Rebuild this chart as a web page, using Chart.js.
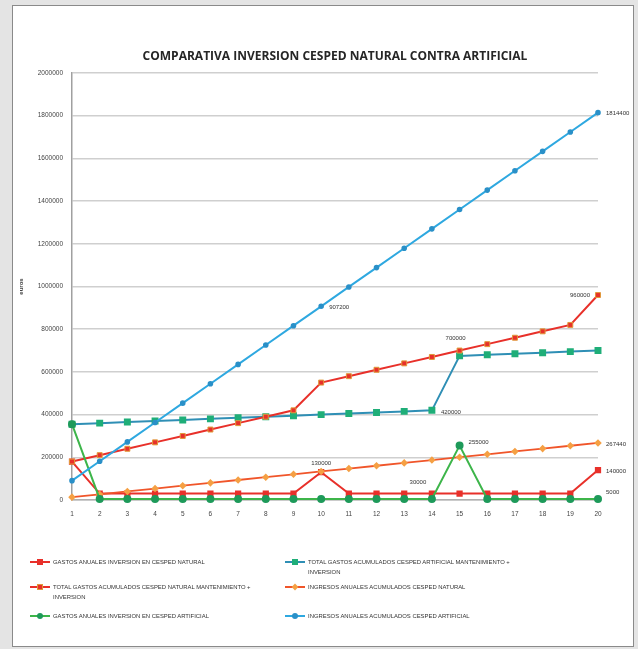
<!DOCTYPE html>
<html>
<head>
<meta charset="utf-8">
<script src="https://cdn.jsdelivr.net/npm/chart.js@4.4.1/dist/chart.umd.min.js"></script>
<style>
  html, body { margin: 0; padding: 0; }
  body { width: 638px; height: 649px; background: #e4e4e4; position: relative; overflow: hidden; font-family: "Liberation Sans", Arial, sans-serif; }
  #panel { position: absolute; left: 12px; top: 5px; width: 620px; height: 640px; background: #fff; border: 1.5px solid #8a8a8a; }
  #wrap { position: absolute; left: 0; top: 0; width: 638px; height: 540px; }
  #legend { position: absolute; left: 0; top: 0; width: 638px; height: 649px; pointer-events: none; }
  .item { position: absolute; display: flex; align-items: flex-start; }
  .mk { position: relative; width: 20px; height: 8px; flex: none; margin-right: 3px; }
  .mk .ln { position: absolute; left: 0; right: 0; top: 3px; height: 2px; }
  .mk .pt { position: absolute; left: 7px; top: 1px; width: 6px; height: 6px; box-sizing: border-box; }
  .txt { font-size: 5.9px; line-height: 10px; color: #333; margin-top: -1px; width: 212px; }
</style>
</head>
<body>
<div id="panel"></div>
<div id="wrap"><canvas id="myChart" width="638" height="540"></canvas></div>
<div id="legend"></div>
<script>
// years 1..20
const years = ["1","2","3","4","5","6","7","8","9","10","11","12","13","14","15","16","17","18","19","20"];

// gastos anuales inversion en cesped natural
const gastosNatural = [180000, 30000, 30000, 30000, 30000, 30000, 30000, 30000, 30000, 130000,
                       30000, 30000, 30000, 30000, 30000, 30000, 30000, 30000, 30000, 140000];

// total gastos acumulados cesped artificial
const totalArtificial = [355000, 360000, 365000, 370000, 375000, 380000, 385000, 390000, 395000, 400000,
                         405000, 410000, 415000, 420000, 675000, 680000, 685000, 690000, 695000, 700000];

// total gastos acumulados cesped natural
const totalNatural = [180000, 210000, 240000, 270000, 300000, 330000, 360000, 390000, 420000, 550000,
                      580000, 610000, 640000, 670000, 700000, 730000, 760000, 790000, 820000, 960000];

// ingresos anuales acumulados cesped natural
const ingresosNatural = [13372, 26744, 40116, 53488, 66860, 80232, 93604, 106976, 120348, 133720,
                         147092, 160464, 173836, 187208, 200580, 213952, 227324, 240696, 254068, 267440];

// gastos anuales inversion en cesped artificial
const gastosArtificial = [355000, 5000, 5000, 5000, 5000, 5000, 5000, 5000, 5000, 5000,
                          5000, 5000, 5000, 5000, 255000, 5000, 5000, 5000, 5000, 5000];

// ingresos anuales acumulados cesped artificial
const ingresosArtificial = [90720, 181440, 272160, 362880, 453600, 544320, 635040, 725760, 816480, 907200,
                            997920, 1088640, 1179360, 1270080, 1360800, 1451520, 1542240, 1632960, 1723680, 1814400];

const yTicks = [0, 200000, 400000, 600000, 800000, 1000000, 1200000, 1400000, 1600000, 1800000, 2000000];

const seriesNames = [
  "GASTOS ANUALES INVERSION EN CESPED NATURAL",
  "TOTAL GASTOS ACUMULADOS CESPED ARTIFICIAL MANTENIMIENTO + INVERSION",
  "TOTAL GASTOS ACUMULADOS CESPED NATURAL MANTENIMIENTO + INVERSION",
  "INGRESOS ANUALES ACUMULADOS CESPED NATURAL",
  "GASTOS ANUALES INVERSION EN CESPED ARTIFICIAL",
  "INGRESOS ANUALES ACUMULADOS CESPED ARTIFICIAL"
];

const red = '#e8302a';
const orange = '#f5a044';
const green = '#3db54a';
const teal = '#2f8fb5';
const tealMark = '#1fae78';
const blue = '#2ea8e0';

// which points get a value label: [dataset, index, dx, dy, align]
const labelSpots = [
  [5, 19, 8, 1, 'left'],
  [5, 9, 8, 1, 'left'],
  [2, 19, -8, 0, 'right'],
  [2, 14, -4, -12, 'center'],
  [1, 13, 9, 2, 'left'],
  [4, 14, 9, -3, 'left'],
  [0, 9, 0, -9, 'center'],
  [0, 13, -14, -11, 'center'],
  [3, 19, 8, 1, 'left'],
  [0, 19, 8, 1, 'left'],
  [4, 19, 8, -7, 'left']
];

const pointLabels = {
  id: 'pointLabels',
  afterDatasetsDraw(chart) {
    const ctx = chart.ctx;
    ctx.save();
    ctx.font = '6px "Liberation Sans", Arial, sans-serif';
    ctx.fillStyle = '#333';
    ctx.textBaseline = 'middle';
    labelSpots.forEach(s => {
      const el = chart.getDatasetMeta(s[0]).data[s[1]];
      const v = chart.data.datasets[s[0]].data[s[1]];
      ctx.textAlign = s[4];
      ctx.fillText(String(v), el.x + s[2], el.y + s[3]);
    });
    ctx.restore();
  }
};

const chartTitle = {
  id: 'chartTitle',
  afterDraw(chart) {
    const ctx = chart.ctx;
    const a = chart.chartArea;
    ctx.save();
    ctx.font = 'bold 12px "Open Sans", Arial, sans-serif';
    ctx.fillStyle = '#262626';
    ctx.textAlign = 'center';
    ctx.textBaseline = 'middle';
    ctx.fillText('COMPARATIVA INVERSION CESPED NATURAL CONTRA ARTIFICIAL', (a.left + a.right) / 2, 57);
    ctx.restore();
  }
};

const tickFont = { size: 6.5, family: '"Liberation Sans", Arial, sans-serif' };

const myChart = document.getElementById('myChart');

let lineChart = new Chart(myChart, {
  type: 'line',
  data: {
    labels: years,
    datasets: [
      { label: seriesNames[0], data: gastosNatural, borderColor: red, backgroundColor: red, order: 5,
        pointStyle: 'rect', pointRadius: 3, pointBorderColor: red, pointBackgroundColor: red, borderWidth: 2 },
      { label: seriesNames[1], data: totalArtificial, borderColor: teal, backgroundColor: tealMark, order: 4,
        pointStyle: 'rect', pointRadius: 3.5, pointBorderColor: tealMark, pointBackgroundColor: tealMark, borderWidth: 2 },
      { label: seriesNames[2], data: totalNatural, borderColor: red, backgroundColor: red, order: 3,
        pointStyle: 'rect', pointRadius: 3.5, pointBorderColor: '#e09a3a', pointBorderWidth: 1, pointBackgroundColor: red, borderWidth: 2 },
      { label: seriesNames[3], data: ingresosNatural, borderColor: '#f0552a', backgroundColor: orange, order: 2,
        pointStyle: 'rectRot', pointRadius: 2.5, pointBorderColor: orange, pointBackgroundColor: orange, borderWidth: 1.8 },
      { label: seriesNames[4], data: gastosArtificial, borderColor: green, backgroundColor: '#1e9a5a', order: 1,
        pointStyle: 'circle', pointRadius: 3, pointBorderColor: '#1e9a5a', pointBackgroundColor: '#1e9a5a', borderWidth: 2 },
      { label: seriesNames[5], data: ingresosArtificial, borderColor: blue, backgroundColor: blue, order: 0,
        pointStyle: 'circle', pointRadius: 1.8, pointBorderColor: '#2a90c8', pointBackgroundColor: '#2a90c8', borderWidth: 2 }
    ]
  },
  options: {
    responsive: false,
    animation: false,
    tension: 0,
    clip: false,
    layout: { padding: { top: 73, left: 12, right: 40, bottom: 15 } },
    plugins: {
      legend: { display: false },
      title: { display: false },
      tooltip: { enabled: false }
    },
    scales: {
      x: {
        grid: { display: false, drawTicks: false },
        border: { color: '#b0b0b0', width: 1.5 },
        ticks: { padding: 10, color: '#444', font: tickFont },
        afterFit(scale) { scale.height = 25; }
      },
      y: {
        min: 0,
        max: 2000000,
        afterBuildTicks(scale) { scale.ticks = yTicks.map(v => ({ value: v })); },
        grid: { color: '#cfcfcf', lineWidth: 1.5, drawTicks: false },
        border: { color: '#a0a0a0', width: 1.5 },
        ticks: { padding: 9, color: '#444', font: tickFont, callback: v => String(v) },
        title: { display: true, text: 'euros', color: '#444', padding: 6, font: { size: 6, weight: 'bold', family: '"Liberation Sans", Arial, sans-serif' } },
        afterFit(scale) { scale.width = 60; }
      }
    }
  },
  plugins: [pointLabels, chartTitle]
});

// legend below the chart, two columns like the original
const legendBox = document.getElementById('legend');
const colLeft = [30, 285];
const rowTop = [558, 583, 612];
lineChart.data.datasets.forEach((ds, i) => {
  const col = i % 2, row = Math.floor(i / 2);
  const item = document.createElement('div');
  item.className = 'item';
  item.style.left = colLeft[col] + 'px';
  item.style.top = rowTop[row] + 'px';
  const mk = document.createElement('div');
  mk.className = 'mk';
  const ln = document.createElement('div');
  ln.className = 'ln';
  ln.style.background = ds.borderColor;
  const pt = document.createElement('div');
  pt.className = 'pt';
  pt.style.background = ds.pointBackgroundColor;
  if (ds.pointStyle === 'circle') pt.style.borderRadius = '50%';
  if (ds.pointStyle === 'rectRot') pt.style.transform = 'rotate(45deg) scale(0.8)';
  if (ds.pointBorderWidth) pt.style.border = '1px solid ' + ds.pointBorderColor;
  mk.appendChild(ln);
  mk.appendChild(pt);
  const txt = document.createElement('div');
  txt.className = 'txt';
  txt.textContent = ds.label;
  item.appendChild(mk);
  item.appendChild(txt);
  legendBox.appendChild(item);
});
</script>
</body>
</html>
